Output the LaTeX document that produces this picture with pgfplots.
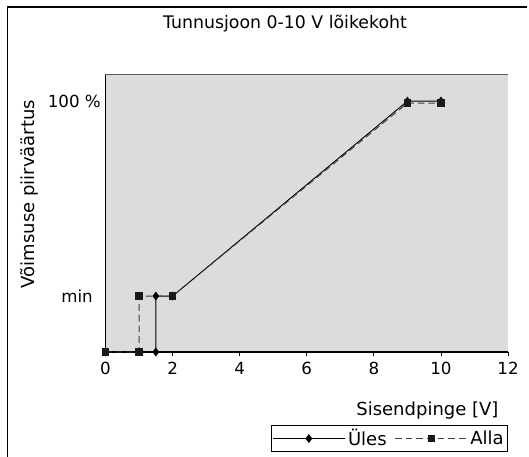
\documentclass[border=0pt]{standalone}
\usepackage{pgfplots}
\pgfplotsset{compat=1.18}
\usepackage{fontspec}
\setmainfont{DejaVu Sans}
\definecolor{plotbg}{RGB}{220,220,220}
\definecolor{topline}{RGB}{90,90,90}
\begin{document}
\begin{tikzpicture}[x=0.75pt,y=-0.75pt]
\useasboundingbox (0,0) rectangle (529,457);
\draw[line width=1.1pt] (7.5,457) -- (7.5,7) -- (527,7);
\begin{axis}[
  at={(79.125pt,-264pt)}, anchor=south west,
  scale only axis, width=301.9pt, height=208.5pt,
  xmin=0, xmax=12, ymin=0, ymax=110.8,
  clip=false,
  axis x line*=bottom, axis y line*=left,
  axis line style={-, line width=0.9pt},
  axis background/.style={fill=plotbg},
  /pgf/number format/assume math mode=true,
  xtick={0,2,...,12},
  ytick={22.3,100}, yticklabels={min\hspace*{6pt},100 \%},
  ytick style={draw=none},
  xtick style={black, line width=0.6pt},
  tick align=outside, major tick length=3pt,
  ticklabel style={font=\fontsize{12.5}{14}\selectfont},
  yticklabel style={xshift=3pt},
  xticklabel style={yshift=-1pt},
  title={Tunnusjoon 0-10 V lõikekoht},
  title style={at={(axis description cs:0.446,1.152)}, anchor=center, font=\fontsize{13}{15}\selectfont},
  xlabel={Sisendpinge [V]},
  xlabel style={at={(axis description cs:0.988,-0.209)}, anchor=east, font=\fontsize{13.5}{16}\selectfont},
  ylabel={Võimsuse piirväärtus},
  ylabel style={at={(axis description cs:-0.188,0.568)}, anchor=center, font=\fontsize{13.5}{16}\selectfont},
  legend columns=2,
  legend style={at={(axis description cs:1,-0.36)}, anchor=south east, draw=black, line width=0.5pt,
    font=\fontsize{13.5}{16}\selectfont, inner sep=1pt,
    /tikz/every even column/.append style={column sep=4pt}},
  legend image code/.code={\draw[mark repeat=2,mark phase=2,#1] plot coordinates {(0cm,0cm) (0.95cm,0cm) (1.9cm,0cm)};},
]
\draw[topline, line width=0.6pt] (rel axis cs:0,1) -- (rel axis cs:1,1);
\addplot[black, line width=0.7pt, mark=diamond*, mark size=2.8pt]
  coordinates {(0,0)(1.5,0)(1.5,22.3)(2,22.3)(9,100)(10,100)};
\addlegendentry{Üles}
\addplot[black!75, line width=0.7pt, dash pattern=on 5pt off 3pt, mark=square*, mark size=2.4pt, mark options={solid, fill=black!90, draw=black!90}]
  coordinates {(0,0)(1,0)(1,22.3)(2,22.3)(9,99.2)(10,99.2)};
\addlegendentry{Alla}
\end{axis}
\end{tikzpicture}
\end{document}
